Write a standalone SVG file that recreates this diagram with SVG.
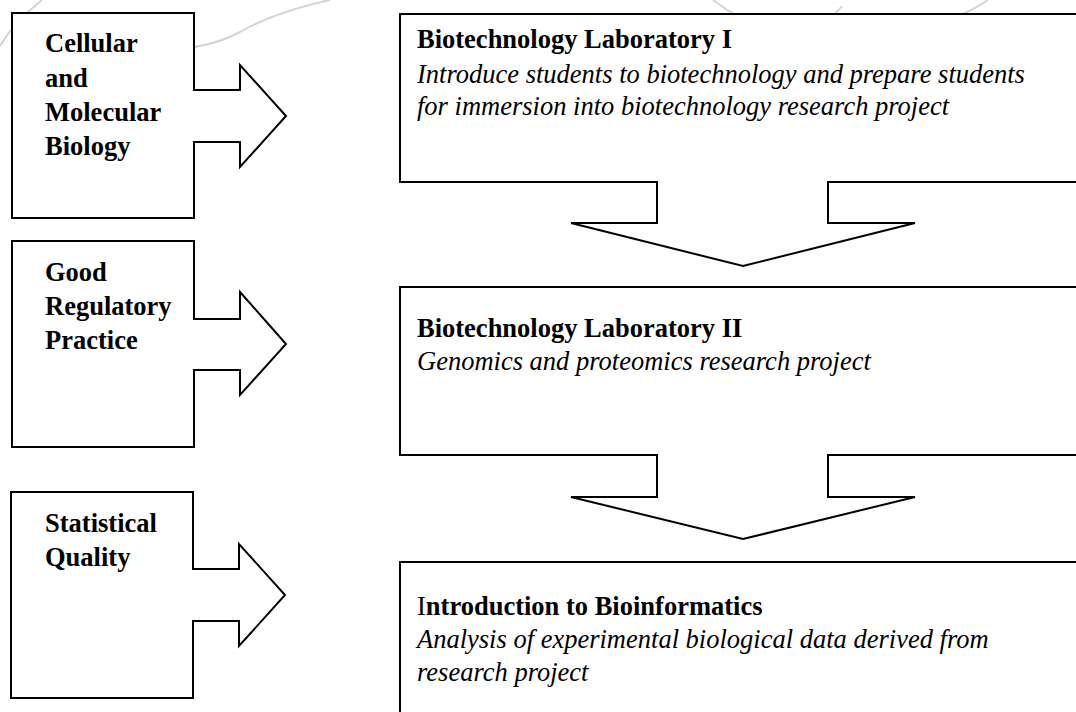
<svg xmlns="http://www.w3.org/2000/svg" width="1076" height="712" viewBox="0 0 1076 712">
<style>
.shape{fill:#fff;stroke:#000;stroke-width:2;stroke-linejoin:miter}
.wm{fill:none;stroke:#d4d4d4;stroke-width:2}
.lbl{font-family:"Liberation Serif","Times New Roman",serif;font-size:26.5px;font-weight:bold;fill:#000}
.ttl{font-family:"Liberation Serif","Times New Roman",serif;font-size:26.5px;font-weight:bold;fill:#000}
.desc{font-family:"Liberation Serif","Times New Roman",serif;font-size:26.5px;font-style:italic;fill:#000}
</style>
<rect width="1076" height="712" fill="#fff"/>
<g id="watermark">
<path class="wm" d="M0,46 Q14,22 42,0"/>
<path class="wm" d="M130,46 Q195,56 240,32 Q275,12 330,0"/>
<path class="wm" d="M713,0 Q760,36 800,30 Q828,24 842,6"/>
<path class="wm" d="M895,22 Q940,32 988,0"/>
</g>
<g id="connectors"></g>
<g id="node-cmb">
<path class="shape" d="M12,13 H194 V90 H240 V65 L286,116 L240,167 V142 H194 V218 H12 Z"/>
<text class="lbl" x="45" y="52">Cellular</text>
<text class="lbl" x="45" y="87">and</text>
<text class="lbl" x="45" y="121">Molecular</text>
<text class="lbl" x="45" y="155">Biology</text>
</g>
<g id="node-grp">
<path class="shape" d="M12,241 H194 V319 H240 V292 L286,344 L240,395 V370 H194 V447 H12 Z"/>
<text class="lbl" x="45" y="281">Good</text>
<text class="lbl" x="45" y="315">Regulatory</text>
<text class="lbl" x="45" y="349">Practice</text>
</g>
<g id="node-sq">
<path class="shape" d="M11,492 H193 V569 H239 V544 L285,595 L239,646 V621 H193 V698 H11 Z"/>
<text class="lbl" x="45" y="532">Statistical</text>
<text class="lbl" x="45" y="566">Quality</text>
</g>
<g id="node-lab1">
<path class="shape" d="M400,14 H1090 V182 H828 V223 H915 L743,266 L571,223 H657 V182 H400 Z"/>
<text class="ttl" x="417" y="48">Biotechnology Laboratory I</text>
<text class="desc" x="417" y="83">Introduce students to biotechnology and prepare students</text>
<text class="desc" x="417" y="115">for immersion into biotechnology research project</text>
</g>
<g id="node-lab2">
<path class="shape" d="M400,287 H1090 V455 H828 V497 H915 L743,539 L571,497 H657 V455 H400 Z"/>
<text class="ttl" x="417" y="337">Biotechnology Laboratory II</text>
<text class="desc" x="417" y="370">Genomics and proteomics research project</text>
</g>
<g id="node-bioinf">
<path class="shape" d="M400,562 H1090 V730 H400 Z"/>
<text class="ttl" x="417" y="615"><tspan font-weight="normal">I</tspan>ntroduction to Bioinformatics</text>
<text class="desc" x="417" y="648">Analysis of experimental biological data derived from</text>
<text class="desc" x="417" y="681">research project</text>
</g>
</svg>
